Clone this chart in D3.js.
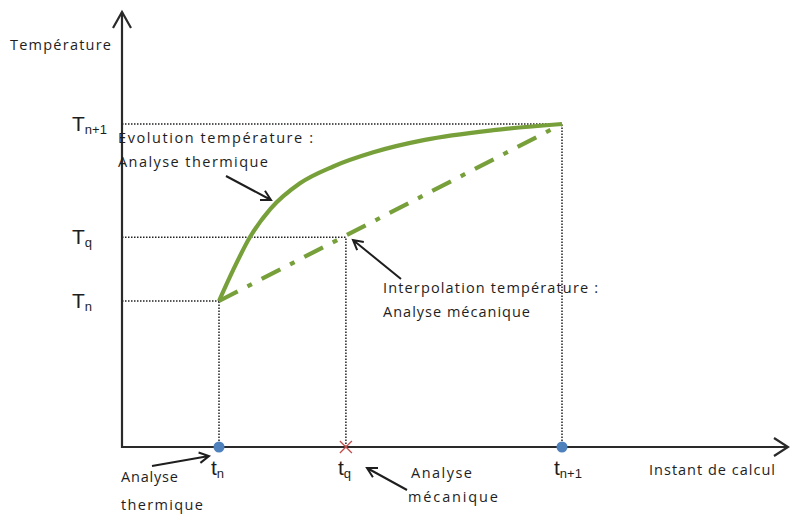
<!DOCTYPE html>
<html><head><meta charset="utf-8">
<script src="https://cdn.jsdelivr.net/npm/d3@7"></script>
<style>body{margin:0;background:#fff}svg{display:block}</style>
</head><body>
<svg id="chart" width="790" height="515"></svg>
<script>
// ---- data ----
const timeKeys = ["tn", "tq", "tn1"];
const timeValues = [0, 0.37, 1];          // tn, tq, tn+1 (normalised)
const tempKeys = ["Tn", "Tq", "Tn1"];
const tempValues = [0, 0.36, 1];          // Tn, Tq, Tn+1 (normalised)
const subLabels = ["n", "q", "n+1"];
// thermal analysis curve (normalised time, temperature)
const curveTime = [0, 0.04, 0.09, 0.15, 0.236, 0.333, 0.45, 0.60, 0.80, 1];
const curveTemp = [0, 0.17, 0.36, 0.52, 0.665, 0.76, 0.84, 0.91, 0.965, 1];
const axisLabelY = "Température";
const axisLabelX = "Instant de calcul";

// ---- layout ----
const x = d3.scaleLinear().domain([0, 1]).range([219, 562]);
const y = d3.scaleLinear().domain([0, 1]).range([301, 124]);
const x0 = 122, y0 = 447;           // axis origin
const xEnd = 788, yEnd = 12;

const svg = d3.select("#chart");
const green = "#77a03a";
const ink = "#1e1e1e";
const font = "'Open Sans', 'Liberation Sans', Arial, sans-serif";

// dotted guide lines
const g = svg.append("g").attr("stroke", "#222").attr("stroke-width", 1.5)
  .attr("stroke-dasharray", "1.5,1.5");
timeValues.forEach((t, i) => {
  g.append("line").attr("x1", x0).attr("x2", x(t)).attr("y1", y(tempValues[i])).attr("y2", y(tempValues[i]));
  g.append("line").attr("x1", x(t)).attr("x2", x(t)).attr("y1", y0).attr("y2", y(tempValues[i]));
});

// axes
const ax = svg.append("g").attr("stroke", "#2a2a2a").attr("fill", "none").attr("stroke-width", 2.2);
ax.append("line").attr("x1", x0).attr("y1", y0 + 1).attr("x2", x0).attr("y2", yEnd);
ax.append("line").attr("x1", x0 - 1).attr("y1", y0).attr("x2", xEnd).attr("y2", y0);
ax.append("path").attr("d", `M${x0 - 9},${yEnd + 16}L${x0},${yEnd}L${x0 + 9},${yEnd + 16}`);
ax.append("path").attr("d", `M${xEnd - 14},${y0 - 9}L${xEnd},${y0}L${xEnd - 14},${y0 + 9}`);

// interpolation (dash-dot) line
svg.append("line")
  .attr("x1", x(timeValues[0])).attr("y1", y(tempValues[0]))
  .attr("x2", x(timeValues[2])).attr("y2", y(tempValues[2]))
  .attr("stroke", green).attr("stroke-width", 4.2)
  .attr("stroke-dasharray", "21,11,5,11");

// thermal curve
const pts = curveTime.map((t, i) => [x(t), y(curveTemp[i])]);
svg.append("path").attr("d", d3.line().curve(d3.curveMonotoneX)(pts))
  .attr("fill", "none").attr("stroke", green).attr("stroke-width", 4.2);

// markers on time axis
[0, 2].forEach(i => svg.append("circle").attr("cx", x(timeValues[i])).attr("cy", y0).attr("r", 5.5).attr("fill", "#4f81bd"));
const cx = x(timeValues[1]);
svg.append("path").attr("d", `M${cx - 6},${y0 - 6}L${cx + 6},${y0 + 6}M${cx - 6},${y0 + 6}L${cx + 6},${y0 - 6}`)
  .attr("stroke", "#c0504d").attr("stroke-width", 1.3).attr("fill", "none");

// annotation arrows (open heads)
function arrow(x1, y1, x2, y2) {
  const a = Math.atan2(y2 - y1, x2 - x1), L = 11, s = 0.5;
  const p1 = [x2 - L * Math.cos(a - s), y2 - L * Math.sin(a - s)];
  const p2 = [x2 - L * Math.cos(a + s), y2 - L * Math.sin(a + s)];
  svg.append("path").attr("d", `M${x1},${y1}L${x2},${y2}M${p1}L${x2},${y2}L${p2}`)
    .attr("stroke", ink).attr("stroke-width", 2).attr("fill", "none");
}
arrow(226, 176, 271, 200);
arrow(401, 279, 353, 240);
arrow(152, 466, 209, 456);
arrow(407, 490, 367, 468);

// texts
function txt(s, tx, ty, size, len) {
  const t = svg.append("text").attr("x", tx).attr("y", ty).attr("font-family", font)
    .attr("font-size", size).attr("fill", ink).text(s);
  if (len) t.attr("textLength", len).attr("lengthAdjust", "spacing");
  return t;
}
const fs = 14.5;
txt(axisLabelY, 10, 50, fs, 101);
txt(axisLabelX, 649, 475, fs, 126);
txt("Evolution température :", 118, 143, fs, 195);
txt("Analyse thermique", 118, 167, fs, 150);
txt("Interpolation température :", 383, 293, fs, 215);
txt("Analyse mécanique", 383, 317, fs, 147);
txt("Analyse", 121, 482, fs, 57);
txt("thermique", 121, 510, fs, 82);
txt("Analyse", 411, 478, fs, 61);
txt("mécanique", 408, 502, fs, 90);

// symbol labels with subscripts
function sym(main, sub, tx, ty, size) {
  const t = svg.append("text").attr("x", tx).attr("y", ty).attr("font-family", "'Liberation Sans', Arial, sans-serif")
    .attr("font-size", size).attr("fill", ink);
  t.append("tspan").text(main);
  t.append("tspan").attr("font-size", size * 0.62).attr("dy", size * 0.12).text(sub);
}
tempValues.forEach((v, i) => sym("T", subLabels[i], 72, y(v) + 7, 21));
timeValues.forEach((t, i) => sym("t", subLabels[i], x(t) - 8, 475, 21));
</script>
</body></html>
